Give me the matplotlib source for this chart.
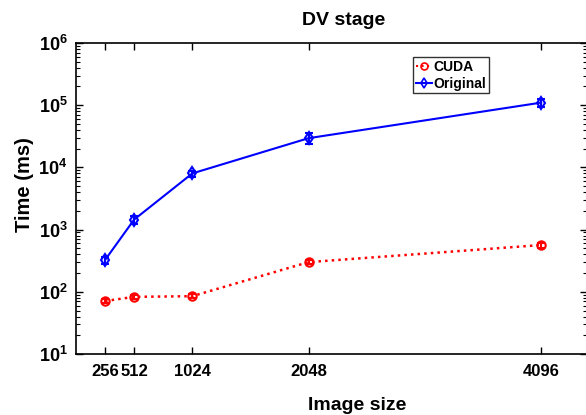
import matplotlib
matplotlib.use("Agg")
import matplotlib.pyplot as plt
from matplotlib.lines import Line2D
from matplotlib.ticker import LogLocator, NullFormatter

plt.rcParams['font.family'] = ['Liberation Sans', 'DejaVu Sans']

sizes = [256, 512, 1024, 2048, 4096]
cuda = [71, 83, 85, 300, 565]
cuda_err = [6, 7, 6, 25, 50]
orig = [325, 1450, 8000, 29500, 110000]
orig_err = [40, 200, 900, 6000, 16000]
xticklabels = ['256', '512', '1024', '2048', '4096']

W, H = 586, 415
fig = plt.figure(figsize=(W / 100, H / 100), dpi=100)
ax = fig.add_axes([76 / W, 61 / H, 511 / W, 311 / H])

ax.errorbar(sizes, cuda, yerr=cuda_err, color='red', linestyle=':', linewidth=1.8,
            marker='o', markersize=6, markerfacecolor='none', markeredgewidth=1.5,
            capsize=3, elinewidth=1.5)
ax.errorbar(sizes, orig, yerr=orig_err, color='blue', linestyle='-', linewidth=1.5,
            marker='d', markersize=6, markerfacecolor='none', markeredgewidth=1.5,
            capsize=3, elinewidth=1.5)

ax.set_yscale('log')
ax.set_ylim(10, 1e6)
ax.set_xlim(0, 4500)
ax.set_xticks(sizes)
ax.set_xticklabels(xticklabels)
ax.yaxis.set_major_locator(LogLocator(base=10, numticks=10))
ax.yaxis.set_minor_locator(LogLocator(base=10, subs=range(2, 10), numticks=100))
ax.yaxis.set_minor_formatter(NullFormatter())

ax.tick_params(which='both', direction='in', top=True, right=True)
ax.tick_params(which='major', length=5, width=1)
ax.tick_params(axis='x', pad=7, labelsize=12)
ax.tick_params(axis='y', pad=6, labelsize=13)
ax.tick_params(which='minor', length=3, width=0.8)
for lab in ax.get_xticklabels() + ax.get_yticklabels():
    lab.set_fontweight('bold')
for sp in ax.spines.values():
    sp.set_linewidth(1.2)

fig.text(357 / W, 1 - 410 / H, 'Image size', fontsize=14, fontweight='bold',
         ha='center', va='baseline')
fig.text(24 / W, 1 - 185 / H, 'Time (ms)', fontsize=14.5, fontweight='bold',
         ha='center', va='center', rotation=90)
fig.text(344 / W, 1 - 25 / H, 'DV stage', fontsize=14, fontweight='bold',
         ha='center', va='baseline')

handles = [
    Line2D([], [], color='red', linestyle=':', linewidth=1.5, marker='o', markersize=5,
           markerfacecolor='none', markeredgewidth=1.2),
    Line2D([], [], color='blue', linestyle='-', linewidth=1.5, marker='d', markersize=5,
           markerfacecolor='none', markeredgewidth=1.2),
]
leg = ax.legend(handles, ['CUDA', 'Original'], loc='upper left', bbox_to_anchor=(0.659, 0.955),
                frameon=True, fancybox=False, edgecolor='black', handlelength=1.2,
                handletextpad=0.1, borderpad=0.2, labelspacing=0.2, borderaxespad=0,
                prop={'weight': 'bold', 'size': 10})
leg.get_frame().set_linewidth(1.0)

fig.savefig('out.png', dpi=100)
